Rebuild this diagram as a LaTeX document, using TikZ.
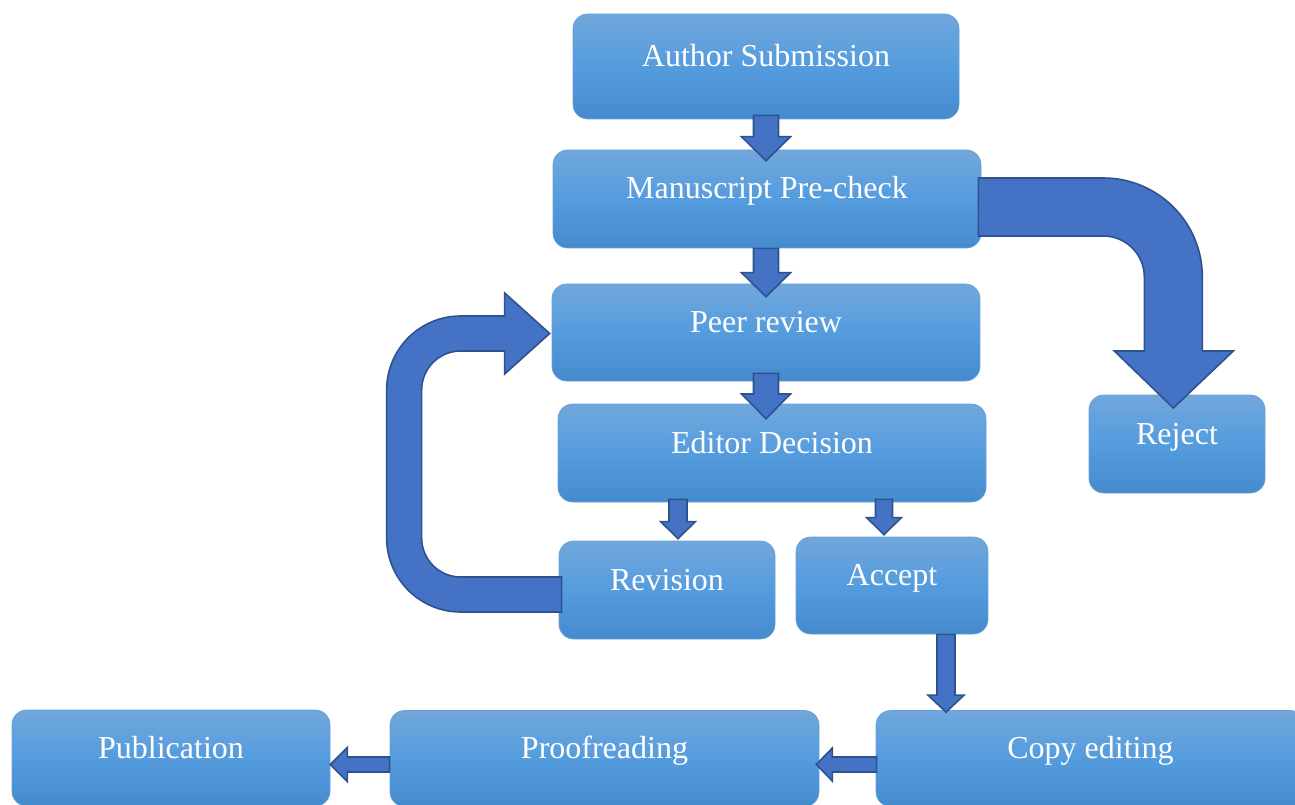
\documentclass[tikz,border=0pt]{standalone}
\usepackage{fontspec}
\setmainfont{Liberation Serif}
\usepackage{tikz}
\usetikzlibrary{calc}

\definecolor{boxtop}{RGB}{113,167,220}
\definecolor{boxmid}{RGB}{84,156,222}
\definecolor{boxbot}{RGB}{69,138,204}
\definecolor{boxedge}{RGB}{104,160,214}
\definecolor{arrowfill}{RGB}{68,114,196}
\definecolor{arrowline}{RGB}{47,82,143}

\tikzset{
  stage/.style={rounded corners=11pt, draw=boxedge, line width=0.5pt,
    top color=boxtop, bottom color=boxbot, middle color=boxmid,
    text=white, font=\fontsize{24}{28}\selectfont,
    text height=16pt, text depth=16pt, inner sep=0pt},
  blockarrow/.style={fill=arrowfill, draw=arrowline, line width=1.2pt, line join=miter},
}

% start, tip, shaft half width, head half width, head length
\newcommand{\downblock}[5]{%
  \draw[blockarrow] let \p1=#1, \p2=#2 in
    ({\x1-#3},\y1) -- ({\x1+#3},\y1) -- ({\x1+#3},{\y2+#5}) -- ({\x1+#4},{\y2+#5})
    -- (\x1,\y2) -- ({\x1-#4},{\y2+#5}) -- ({\x1-#3},{\y2+#5}) -- cycle;}
\newcommand{\leftblock}[5]{%
  \draw[blockarrow] let \p1=#1, \p2=#2 in
    (\x1,{\y1+#3}) -- (\x1,{\y1-#3}) -- ({\x2+#5},{\y1-#3}) -- ({\x2+#5},{\y1-#4})
    -- (\x2,\y1) -- ({\x2+#5},{\y1+#4}) -- ({\x2+#5},{\y1+#3}) -- cycle;}

\begin{document}
\begin{tikzpicture}[x=0.75pt,y=-0.75pt]
      \useasboundingbox (0,0) rectangle (1295,805);
      \node[stage, minimum width=289.5pt, minimum height=78.75pt] (author) at (766,66.5) {Author Submission};
      \node[stage, minimum width=321pt, minimum height=73.5pt] (precheck) at (767,199) {Manuscript Pre-check};
      \node[stage, minimum width=321pt, minimum height=72.75pt] (peer) at (766,332.5) {Peer review};
      \node[stage, minimum width=321pt, minimum height=73.5pt] (editor) at (772,453) {Editor Decision};
      \node[stage, minimum width=132pt, minimum height=73.5pt] (reject) at (1177,444) {Reject};
      \node[stage, minimum width=162pt, minimum height=73.5pt] (revision) at (667,590) {Revision};
      \node[stage, minimum width=144pt, minimum height=72.75pt] (accept) at (892,585.5) {Accept};
      \node[stage, minimum width=238.5pt, minimum height=72pt] (publication) at (171,758) {Publication};
      \node[stage, minimum width=321.75pt, minimum height=72pt] (proof) at (604.5,758.5) {Proofreading};
      \node[stage, minimum width=321.75pt, minimum height=72pt] (copy) at (1090.5,758.5) {Copy editing};

      \downblock{($(author.south)+(0,-4)$)}{($(precheck.north)+(-1,11)$)}{9.4pt}{18.4pt}{18pt}
      \downblock{($(precheck.south)+(-1,0)$)}{($(peer.north)+(0,13)$)}{9.4pt}{18.4pt}{18pt}
      \downblock{($(peer.south)+(0,-8)$)}{($(editor.north)+(-6,15)$)}{9.4pt}{18.4pt}{18.5pt}
      \downblock{($(editor.south)+(-94,-3)$)}{($(revision.north)+(11,-2)$)}{6.75pt}{13pt}{12.75pt}
      \downblock{($(editor.south)+(112,-3)$)}{($(accept.north)+(-8,-2)$)}{6.4pt}{13pt}{12.75pt}
      \downblock{($(accept.south)+(54,0)$)}{($(copy.north)+(-144.5,2)$)}{6.75pt}{13.5pt}{12.75pt}
      \leftblock{($(copy.west)+(1,6)$)}{($(proof.east)+(-3,6)$)}{5.6pt}{12.4pt}{12pt}
      \leftblock{($(proof.west)+(0,6)$)}{($(publication.east)+(0,6.5)$)}{5.6pt}{12.75pt}{12.75pt}

      % pre-check out to reject
      \draw[blockarrow] ($(precheck.east)+(-3,-21)$) -- ++(125,0) arc (-90:0:99) -- ++(0,74) -- ++(31,0)
        -- ++(-60,57) -- ++(-59,-57) -- ++(30,0) -- ++(0,-74) arc (0:-90:41) -- ++(-125,0) -- cycle;
      % revision back to peer review
      \draw[blockarrow] ($(revision.west)+(3,22)$) -- ++(-101,0) arc (90:180:74) -- ++(0,-148) arc (180:270:74)
        -- ++(44,0) -- ++(0,-23) -- ++(45,40.5) -- ++(-45,40.5) -- ++(0,-23) -- ++(-44,0)
        arc (270:180:39) -- ++(0,148) arc (180:90:39) -- ++(101,0) -- cycle;
\end{tikzpicture}
\end{document}
